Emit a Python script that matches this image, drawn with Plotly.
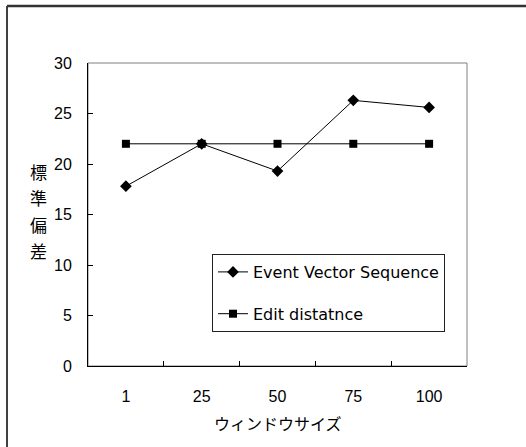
import plotly.graph_objects as go

# window sizes and standard deviations
window_sizes = ["1", "25", "50", "75", "100"]
event_vector_sequence = [17.8, 22.0, 19.3, 26.3, 25.6]
edit_distance = [22.0, 22.0, 22.0, 22.0, 22.0]
y_ticks = [0, 5, 10, 15, 20, 25, 30]
y_title_chars = ["標", "準", "偏", "差"]
x_title = "ウィンドウサイズ"

latin = "Liberation Sans, Arial, sans-serif"
legend_font = "DejaVu Sans, sans-serif"
cjk = "Noto Sans CJK JP, sans-serif"

fig = go.Figure()
fig.add_trace(go.Scatter(
    x=window_sizes, y=event_vector_sequence, name="Event Vector Sequence",
    mode="lines+markers", legendgroup="a",
    line=dict(color="black", width=1),
    marker=dict(symbol="diamond", size=9, color="black"),
))
fig.add_trace(go.Scatter(
    x=window_sizes, y=edit_distance, name="Edit distatnce",
    mode="lines+markers", legendgroup="b",
    line=dict(color="black", width=1),
    marker=dict(symbol="square", size=8, color="black"),
))

annotations = []
for i, ch in enumerate(y_title_chars):
    annotations.append(dict(
        text=ch, xref="paper", yref="paper", showarrow=False,
        x=-50 / 379, y=(366 - 171 - i * 26.5) / 303,
        xanchor="center", yanchor="middle",
        font=dict(family=cjk, size=17, color="black"),
    ))
annotations.append(dict(
    text=x_title, xref="paper", yref="paper", showarrow=False,
    x=(278 - 88) / 379, y=-(423 - 366) / 303,
    xanchor="center", yanchor="middle",
    font=dict(family=cjk, size=16, color="black"),
))

fig.update_layout(
    width=526, height=447,
    margin=dict(l=88, r=59, t=63, b=81),
    paper_bgcolor="white", plot_bgcolor="white",
    showlegend=True,
    legend=dict(
        x=(212 - 88) / 379, y=(366 - 254) / 303,
        xanchor="left", yanchor="top",
        bgcolor="white", bordercolor="#222", borderwidth=1,
        font=dict(family=legend_font, size=16, color="black"),
        tracegroupgap=18,
        itemwidth=30,
    ),
    annotations=annotations,
    shapes=[
        # plot area frame
        dict(type="rect", xref="paper", yref="paper", x0=0, x1=1, y0=0, y1=1,
             line=dict(color="#808080", width=1), layer="below"),
        # outer chart frame (left and top edges)
        dict(type="line", xref="paper", yref="paper",
             x0=-81 / 379, x1=-81 / 379, y0=-(447 - 366) / 303, y1=(366 - 6) / 303,
             line=dict(color="black", width=1.5)),
        dict(type="line", xref="paper", yref="paper",
             x0=-81 / 379, x1=(526 - 88) / 379, y0=(366 - 6) / 303, y1=(366 - 6) / 303,
             line=dict(color="#333", width=2.5)),
    ],
    xaxis=dict(
        type="category", range=[-0.5, 4.5],
        showline=True, linecolor="black", linewidth=1,
        ticks="inside", tickson="boundaries", ticklen=5, tickcolor="black",
        showgrid=False, zeroline=False,
        tickfont=dict(family=latin, size=16, color="black"),
        ticklabelstandoff=16,
    ),
    yaxis=dict(
        range=[0, 30], tickvals=y_ticks,
        showline=True, linecolor="black", linewidth=1,
        ticks="inside", ticklen=5, tickcolor="black",
        showgrid=False, zeroline=False,
        tickfont=dict(family=latin, size=16, color="black"),
        ticklabelstandoff=12,
    ),
)

fig.write_html("out.html")
